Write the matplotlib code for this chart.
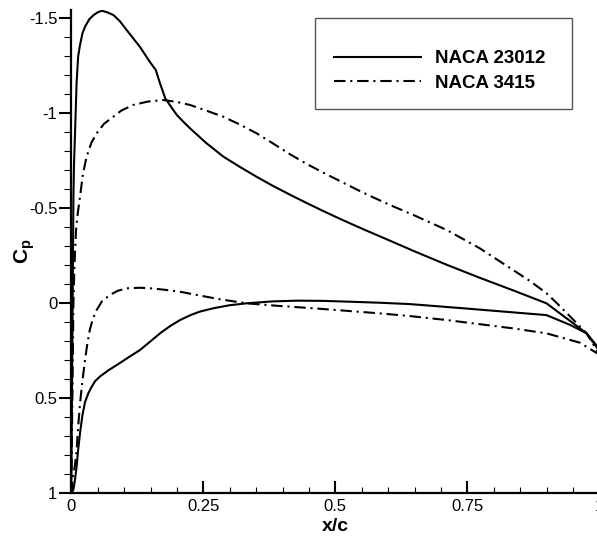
import matplotlib
matplotlib.use("Agg")
import matplotlib.pyplot as plt
from matplotlib.patches import Rectangle
from matplotlib.ticker import MultipleLocator, FormatStrFormatter

plt.rcParams['font.family'] = ['Liberation Sans', 'DejaVu Sans']
plt.rcParams['axes.unicode_minus'] = False
plt.rcParams['mathtext.fontset'] = 'custom'
plt.rcParams['mathtext.bf'] = 'Liberation Sans:bold'
plt.rcParams['mathtext.rm'] = 'Liberation Sans'

# NACA 23012, upper and lower surface
x_23012_up = [0.0, 0.002, 0.004, 0.005, 0.007, 0.010, 0.013, 0.0165, 0.021, 0.026, 0.034,
              0.042, 0.050, 0.058, 0.068, 0.080, 0.092, 0.105, 0.130, 0.149, 0.160, 0.168,
              0.178, 0.190, 0.200, 0.2125, 0.225, 0.255, 0.288, 0.320, 0.351, 0.380, 0.414,
              0.445, 0.477, 0.515, 0.553, 0.600, 0.648, 0.711, 0.774, 0.837, 0.900, 0.938,
              0.976, 1.0]
cp_23012_up = [1.0, 0.2, -0.56, -0.72, -0.89, -1.16, -1.30, -1.36, -1.42, -1.456, -1.495,
               -1.517, -1.532, -1.54, -1.532, -1.517, -1.485, -1.438, -1.35, -1.27, -1.228, -1.158,
               -1.079, -1.03, -0.991, -0.955, -0.921, -0.845, -0.772, -0.717, -0.666, -0.621, -0.572,
               -0.529, -0.486, -0.437, -0.39, -0.334, -0.276, -0.203, -0.134, -0.068, 0.0, 0.079,
               0.158, 0.25]
x_23012_lo = [0.0, 0.004, 0.007, 0.010, 0.013, 0.0165, 0.021, 0.026, 0.032, 0.0386, 0.045,
              0.054, 0.070, 0.086, 0.108, 0.130, 0.150, 0.168, 0.187, 0.206, 0.225, 0.243,
              0.269, 0.300, 0.332, 0.380, 0.427, 0.475, 0.522, 0.585, 0.641, 0.742, 0.900,
              0.945, 0.976, 1.0]
cp_23012_lo = [1.0, 0.98, 0.93, 0.86, 0.77, 0.684, 0.59, 0.52, 0.475, 0.439, 0.41,
               0.386, 0.353, 0.325, 0.285, 0.246, 0.200, 0.158, 0.12, 0.088, 0.063, 0.044,
               0.026, 0.01, 0.0, -0.01, -0.014, -0.013, -0.009, -0.003, 0.004, 0.026, 0.062,
               0.114, 0.158, 0.24]

# NACA 3415, upper and lower surface
x_3415_up = [0.0, 0.002, 0.004, 0.006, 0.009, 0.012, 0.0165, 0.022, 0.029, 0.038, 0.048,
             0.062, 0.0795, 0.095, 0.117, 0.145, 0.174, 0.200, 0.225, 0.255, 0.288, 0.320,
             0.351, 0.380, 0.414, 0.445, 0.477, 0.510, 0.540, 0.570, 0.604, 0.648, 0.711,
             0.774, 0.837, 0.870, 0.900, 0.920, 0.945, 0.976, 1.0]
cp_3415_up = [1.0, 0.5, 0.0, -0.2, -0.386, -0.47, -0.561, -0.68, -0.772, -0.845, -0.895,
              -0.945, -0.982, -1.015, -1.044, -1.062, -1.07, -1.06, -1.044, -1.015, -0.982, -0.94,
              -0.895, -0.845, -0.785, -0.735, -0.688, -0.642, -0.600, -0.560, -0.517, -0.465, -0.386,
              -0.289, -0.175, -0.115, -0.053, 0.0, 0.07, 0.158, 0.27]
x_3415_lo = [0.0, 0.004, 0.007, 0.010, 0.013, 0.0165, 0.021, 0.026, 0.030, 0.035, 0.041,
             0.048, 0.058, 0.073, 0.088, 0.105, 0.130, 0.155, 0.181, 0.206, 0.2375, 0.280,
             0.332, 0.390, 0.458, 0.585, 0.641, 0.711, 0.837, 0.900, 0.963, 1.0]
cp_3415_lo = [1.0, 0.9, 0.85, 0.772, 0.65, 0.526, 0.41, 0.298, 0.22, 0.14, 0.08,
              0.035, -0.01, -0.044, -0.066, -0.079, -0.082, -0.078, -0.070, -0.061, -0.044, -0.022,
              0.0, 0.013, 0.026, 0.053, 0.067, 0.088, 0.132, 0.158, 0.207, 0.27]

labels = ['NACA 23012', 'NACA 3415']

fig = plt.figure(figsize=(5.97, 5.37), dpi=100)
ax = fig.add_axes([71.3 / 597, 43.7 / 537, 528 / 597, 483.3 / 537])

dashdot = (0, (5.5, 2.3, 1, 2.3))
ax.plot(x_23012_up, cp_23012_up, color='black', lw=1.5, label=labels[0])
ax.plot(x_23012_lo, cp_23012_lo, color='black', lw=1.5)
ax.plot(x_3415_up, cp_3415_up, color='black', lw=1.5, ls=dashdot, label=labels[1])
ax.plot(x_3415_lo, cp_3415_lo, color='black', lw=1.5, ls=dashdot)

ax.set_xlim(0, 1)
ax.set_ylim(1, -1.544)

for s in ['top', 'right']:
    ax.spines[s].set_visible(False)
for s in ['left', 'bottom']:
    ax.spines[s].set_linewidth(1.6)

ax.xaxis.set_major_locator(MultipleLocator(0.25))
ax.xaxis.set_minor_locator(MultipleLocator(0.05))
ax.yaxis.set_major_locator(MultipleLocator(0.5))
ax.yaxis.set_minor_locator(MultipleLocator(0.1))
ax.xaxis.set_major_formatter(FormatStrFormatter('%g'))
ax.yaxis.set_major_formatter(FormatStrFormatter('%g'))

ax.tick_params(axis='x', which='major', direction='in', length=9, width=1.5, labelsize=12, pad=4)
ax.tick_params(axis='x', which='minor', direction='in', length=4.5, width=0.8)
ax.tick_params(axis='y', which='major', direction='out', length=9, width=1.5, labelsize=12, pad=1)
ax.tick_params(axis='y', which='minor', direction='out', length=5, width=0.8)

ax.set_xlabel('x/c', fontsize=14, fontweight='bold', labelpad=3)
ax.set_ylabel(r'$\mathbf{C_p}$', fontsize=15)
ax.yaxis.set_label_coords(-0.065, 0.5)

# legend box drawn separately so the entries can sit a little low like the original
fig.patches.append(Rectangle((315 / 597, 1 - 109 / 537), 257 / 597, 91 / 537,
                             transform=fig.transFigure, fill=False,
                             edgecolor='#555555', linewidth=1.0))
leg = ax.legend(loc='center left', bbox_to_anchor=(325 / 597, 1 - 71 / 537),
                bbox_transform=fig.transFigure, borderaxespad=0, frameon=False,
                prop={'weight': 'bold', 'size': 13.5}, handlelength=4.6, handletextpad=0.75,
                labelspacing=0.38, borderpad=0.5)

fig.savefig('out.png', dpi=100)
